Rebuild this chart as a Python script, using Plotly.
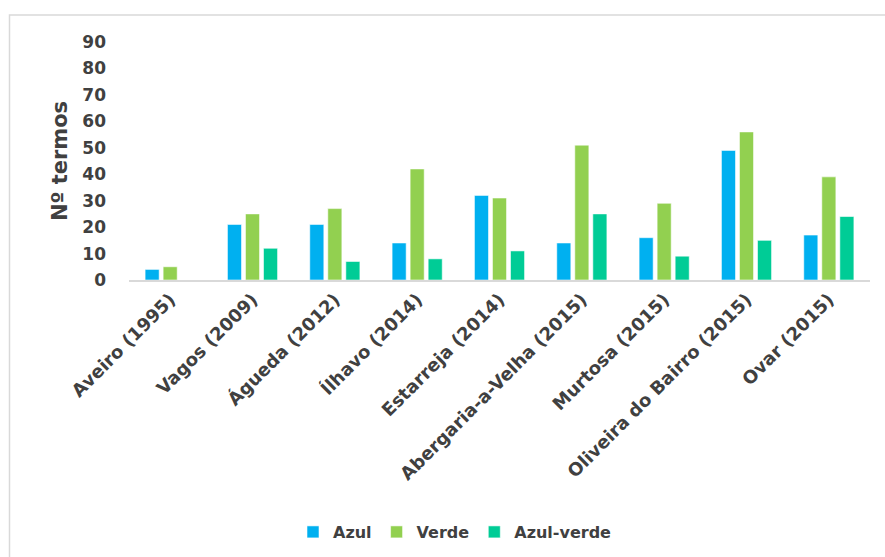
import plotly.graph_objects as go

categories = ["Aveiro (1995)", "Vagos (2009)", "Águeda (2012)", "Ílhavo (2014)",
              "Estarreja (2014)", "Abergaria-a-Velha (2015)", "Murtosa (2015)",
              "Oliveira do Bairro (2015)", "Ovar (2015)"]
azul = [4, 21, 21, 14, 32, 14, 16, 49, 17]
verde = [5, 25, 27, 42, 31, 51, 29, 56, 39]
azul_verde = [None, 12, 7, 8, 11, 25, 9, 15, 24]
y_ticks = [0, 10, 20, 30, 40, 50, 60, 70, 80, 90]

colors = {"Azul": "#00B0F0", "Verde": "#92D050", "Azul-verde": "#00CC96"}
txt = "#404040"
font_family = "DejaVu Sans"

fig = go.Figure()
for name, vals in [("Azul", azul), ("Verde", verde), ("Azul-verde", azul_verde)]:
    fig.add_trace(go.Bar(
        x=categories, y=vals, name=name,
        marker=dict(color=colors[name], line=dict(color="rgba(255,255,255,0.55)", width=1)),
    ))

fig.update_layout(
    width=885, height=557,
    margin=dict(l=129, r=15, t=42, b=277, autoexpand=False),
    paper_bgcolor="white", plot_bgcolor="white",
    barmode="group", bargap=0.343, bargroupgap=0.22,
    font=dict(family=font_family, color=txt),
    showlegend=True,
    legend=dict(orientation="h", x=(293 - 129) / 741, xanchor="left",
                y=(280 - 532) / 238, yanchor="middle",
                font=dict(family=font_family, size=16, color=txt, weight="bold"),
                itemwidth=30, bgcolor="rgba(0,0,0,0)"),
)
fig.update_xaxes(
    showline=True, linecolor="#D9D9D9", linewidth=2,
    showgrid=False, ticks="", tickangle=-45, automargin=False,
    tickfont=dict(family=font_family, size=18, color=txt, weight="bold"),
)
fig.update_yaxes(
    range=[0, 90], tickvals=y_ticks, showgrid=False, zeroline=False,
    showline=False, ticks="", ticklabelstandoff=22, automargin=False,
    tickfont=dict(family=font_family, size=17, color=txt, weight="bold"),
    title=dict(text="Nº termos", standoff=8,
               font=dict(family=font_family, size=21, color=txt, weight="bold")),
)
# outer chart-area border
fig.add_shape(type="rect", xref="paper", yref="paper",
              x0=(9.5 - 129) / 741, x1=(900 - 129) / 741,
              y0=(280 - 580) / 238, y1=(280 - 15) / 238,
              line=dict(color="#D9D9D9", width=1.5), fillcolor="rgba(0,0,0,0)", layer="below")

fig.write_html("out.html")
